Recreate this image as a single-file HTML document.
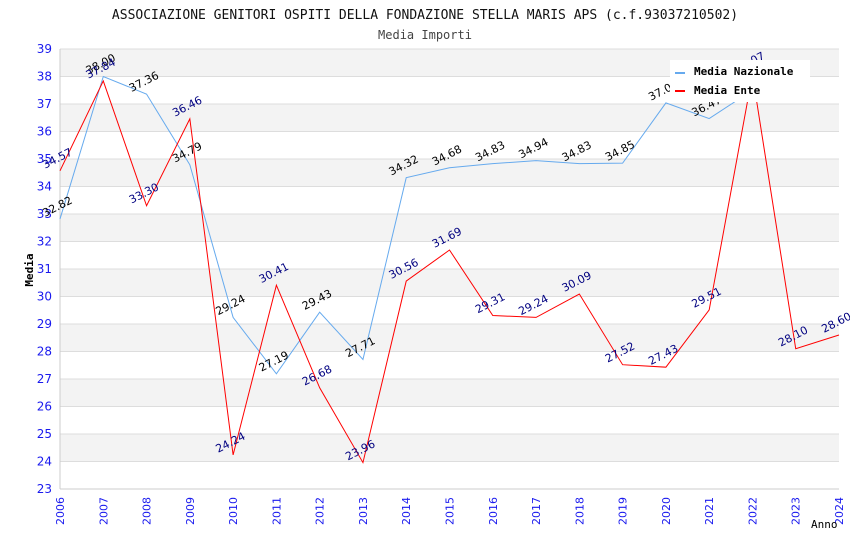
<!DOCTYPE html>
<html><head><meta charset="utf-8"><style>
body{margin:0;background:#fff;}
svg{display:block;font-family:"DejaVu Sans","Liberation Sans",sans-serif;}
</style></head><body>
<svg id="chart" width="850" height="550">
<text x="425" y="19" text-anchor="middle" font-family="DejaVu Sans Mono,Liberation Mono,monospace" font-size="13" fill="#111">ASSOCIAZIONE GENITORI OSPITI DELLA FONDAZIONE STELLA MARIS APS (c.f.93037210502)</text>
<text x="425" y="39" text-anchor="middle" font-family="DejaVu Sans Mono,Liberation Mono,monospace" font-size="12" fill="#444">Media Importi</text>
<g id="grid"></g><g id="axes"></g><g id="series"></g>
<g>
<rect x="670" y="60" width="140" height="42" fill="#fff"/>
<line x1="675" y1="73" x2="685" y2="73" stroke="#66aaee" stroke-width="2"/>
<text x="694" y="75" font-family="DejaVu Sans Mono,monospace" font-weight="bold" font-size="11">Media Nazionale</text>
<line x1="675" y1="91" x2="685" y2="91" stroke="#ff0000" stroke-width="2"/>
<text x="694" y="94" font-family="DejaVu Sans Mono,monospace" font-weight="bold" font-size="11">Media Ente</text>
</g>
<text x="33" y="270" transform="rotate(-90 33 270)" text-anchor="middle" font-family="DejaVu Sans Mono,monospace" font-weight="bold" font-size="11">Media</text>
<text x="811" y="528" font-family="DejaVu Sans Mono,monospace" font-size="11">Anno</text>
</svg>
<script>
const years=[2006,2007,2008,2009,2010,2011,2012,2013,2014,2015,2016,2017,2018,2019,2020,2021,2022,2023,2024];
const nazionale=[32.82,38.00,37.36,34.79,29.24,27.19,29.43,27.71,34.32,34.68,34.83,34.94,34.83,34.85,37.04,36.47,37.5];
const ente=[34.57,37.84,33.30,36.46,24.24,30.41,26.68,23.96,30.56,31.69,29.31,29.24,30.09,27.52,27.43,29.51,38.07,28.10,28.60];
const yTicks=[23,24,25,26,27,28,29,30,31,32,33,34,35,36,37,38,39];
const X0=60,X1=839,Y0=49,Y1=489,ymin=23,ymax=39;
const xs=i=>X0+(X1-X0)*i/(years.length-1);
const ys=v=>Y1-(v-ymin)/(ymax-ymin)*(Y1-Y0);
const NS="http://www.w3.org/2000/svg";
function mk(tag,parent,attrs){const e=document.createElementNS(NS,tag);for(const k in attrs)e.setAttribute(k,attrs[k]);parent.appendChild(e);return e;}
const grid=document.getElementById('grid'),axes=document.getElementById('axes'),ser=document.getElementById('series');
for(let t=0;t<yTicks.length-1;t++){
 if((ymax-yTicks[t+1])%2===0){const r=mk('rect',grid,{x:X0,y:ys(yTicks[t+1]),width:X1-X0,height:ys(yTicks[t])-ys(yTicks[t+1]),fill:'#f3f3f3'});
 
 }
}
yTicks.forEach(v=>{
 const l=mk('line',grid,{x1:X0,x2:X1,y1:ys(v),y2:ys(v),stroke:'#dddddd'});
 
 
 const t=mk('text',axes,{x:X0-8,y:ys(v)+4,'text-anchor':'end','font-size':12,fill:'#1a1aee'});
 t.textContent=v;
 
 
});
mk('line',axes,{x1:X0,x2:X0,y1:Y0,y2:Y1,stroke:'#ccc'});
mk('line',axes,{x1:X0,x2:X1,y1:Y1,y2:Y1,stroke:'#ccc'});
years.forEach((y,i)=>{
 const x=xs(i);
 const t=mk('text',axes,{x:x+4,y:Y1+8,'text-anchor':'end','font-size':11,fill:'#1a1aee',transform:`rotate(-90 ${x+4} ${Y1+8})`});
 t.textContent=y;
 
 
});
function series(data,color,lc,name){
 const pts=data.map((v,i)=>xs(i)+','+ys(v)).join(' ');
 const p=mk('polyline',ser,{points:pts,fill:'none',stroke:color,'stroke-width':1});
 
 
 data.forEach((v,i)=>{
  const x=xs(i)-15,y=ys(v)-2;
  const t=mk('text',ser,{x:x,y:y,'font-size':11,fill:lc,transform:`rotate(-27 ${x} ${y})`});
  t.textContent=v.toFixed(2);
  
  
 });
}
series(nazionale,'#66aaee','#000','nazionale');
series(ente,'#ff0000','#000080','ente');
</script>
</body></html>
